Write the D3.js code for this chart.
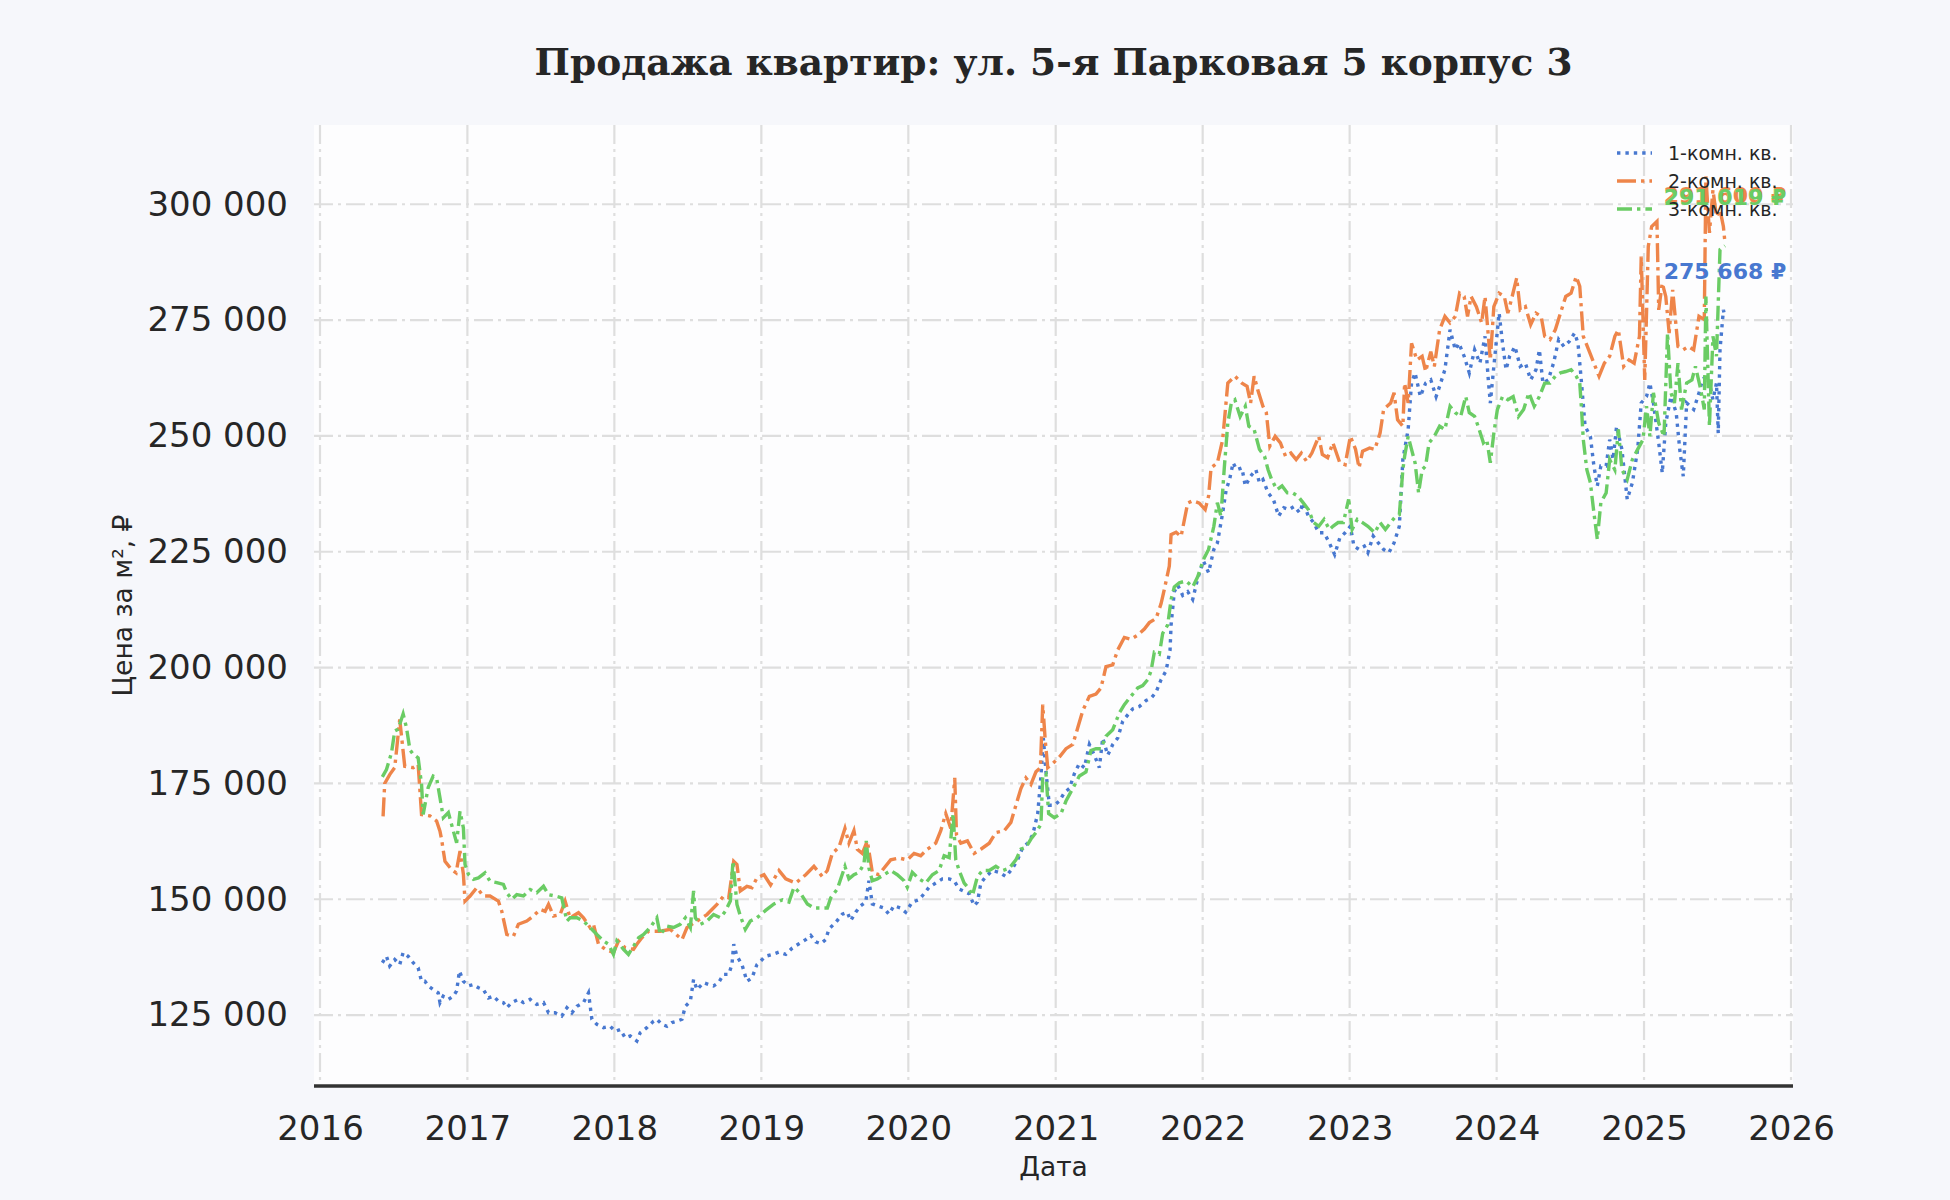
<!DOCTYPE html>
<html>
<head>
<meta charset="utf-8">
<script src="https://cdn.jsdelivr.net/npm/d3@7"></script>
<style>
  body { margin: 0; background: #f6f7fb; }
  svg { display: block; }
</style>
</head>
<body>
<div id="chart"></div>
<script>

// series names and colours (seaborn "muted")
const seriesNames = ["1-комн. кв.", "2-комн. кв.", "3-комн. кв."];
const seriesColors = ["#4878d0", "#ee854a", "#6acc64"];

// y ticks
const priceTicks = [125000, 150000, 175000, 200000, 225000, 250000, 275000, 300000];

// [decimal year, price per m2]
const oneRoom = [
  [2016.423,136300],[2016.451,137700],[2016.473,135600],[2016.507,137000],[2016.541,135900],[2016.564,138500],
  [2016.598,137700],[2016.632,136300],[2016.666,135200],[2016.689,132300],[2016.712,132300],[2016.734,131300],
  [2016.768,130500],[2016.802,129800],[2016.814,127700],[2016.836,129100],[2016.871,128400],[2016.905,129100],
  [2016.927,130200],[2016.946,134500],[2016.973,132300],[2017.007,131300],[2017.041,131600],[2017.075,130900],
  [2017.109,130500],[2017.143,128700],[2017.177,129100],[2017.211,128000],[2017.245,127700],[2017.268,126600],
  [2017.302,127700],[2017.347,128400],[2017.381,127700],[2017.427,128400],[2017.472,127300],[2017.518,127700],
  [2017.552,125500],[2017.597,125500],[2017.642,124800],[2017.677,126600],[2017.711,125500],[2017.745,126900],
  [2017.790,127700],[2017.824,129800],[2017.847,124100],[2017.881,123000],[2017.926,122300],[2017.972,122600],
  [2018.006,121500],[2018.040,121900],[2018.074,120100],[2018.108,120500],[2018.153,119400],[2018.176,121200],
  [2018.221,122300],[2018.267,123700],[2018.289,124100],[2018.323,123000],[2018.358,122600],[2018.392,123400],
  [2018.426,123700],[2018.460,124100],[2018.483,126900],[2018.517,128000],[2018.539,132700],[2018.562,130500],
  [2018.607,132000],[2018.641,131600],[2018.675,131300],[2018.709,132000],[2018.743,133800],[2018.778,133800],
  [2018.800,135900],[2018.812,140300],[2018.834,137700],[2018.868,135900],[2018.902,132300],[2018.936,133000],
  [2018.970,135900],[2019.029,137700],[2019.075,138100],[2019.120,138600],[2019.166,138100],[2019.211,139500],
  [2019.256,140400],[2019.302,141300],[2019.336,142200],[2019.370,140800],[2019.404,140400],[2019.438,141300],
  [2019.460,143600],[2019.506,145000],[2019.551,146800],[2019.585,147200],[2019.608,145400],[2019.642,147200],
  [2019.676,148600],[2019.710,149400],[2019.732,154000],[2019.755,149000],[2019.789,148600],[2019.834,148100],
  [2019.868,146800],[2019.902,148600],[2019.948,148100],[2019.982,147200],[2020.027,149400],[2020.073,149900],
  [2020.107,151200],[2020.141,152600],[2020.186,153500],[2020.231,154400],[2020.277,154400],[2020.311,154000],
  [2020.345,152200],[2020.379,151700],[2020.413,151200],[2020.447,148600],[2020.469,149400],[2020.492,153500],
  [2020.526,154900],[2020.571,156200],[2020.617,155800],[2020.662,154900],[2020.707,156700],[2020.741,158500],
  [2020.776,161200],[2020.810,162100],[2020.844,163900],[2020.878,168500],[2020.900,176600],[2020.916,184800],
  [2020.934,177500],[2020.957,170300],[2020.991,170300],[2021.025,171200],[2021.059,173000],[2021.093,173900],
  [2021.127,177100],[2021.161,179300],[2021.195,178400],[2021.229,183400],[2021.263,181100],[2021.297,178400],
  [2021.320,184800],[2021.354,181100],[2021.388,183400],[2021.422,184800],[2021.456,188400],[2021.490,189800],
  [2021.524,191100],[2021.569,191600],[2021.615,192900],[2021.649,193400],[2021.683,194700],[2021.717,197400],
  [2021.751,199300],[2021.778,203800],[2021.785,209200],[2021.807,216400],[2021.830,217800],[2021.864,215600],
  [2021.898,216400],[2021.932,214700],[2021.966,219200],[2022.005,223000],[2022.040,220500],[2022.076,225500],
  [2022.100,226900],[2022.136,233400],[2022.160,238400],[2022.183,240600],[2022.207,244200],[2022.231,242700],
  [2022.267,243100],[2022.290,239200],[2022.326,241300],[2022.362,242700],[2022.386,239900],[2022.410,240600],
  [2022.445,237700],[2022.481,236300],[2022.517,232700],[2022.552,234500],[2022.588,234100],[2022.624,234800],
  [2022.660,233400],[2022.683,235600],[2022.719,232700],[2022.755,231300],[2022.790,229100],[2022.826,229100],
  [2022.862,226900],[2022.898,224400],[2022.933,228000],[2022.969,229100],[2023.005,230500],[2023.029,226200],
  [2023.064,225500],[2023.100,226200],[2023.124,224800],[2023.160,228400],[2023.195,226900],[2023.231,225500],
  [2023.267,224800],[2023.302,226900],[2023.338,230500],[2023.362,244900],[2023.398,251400],[2023.421,261400],
  [2023.445,263600],[2023.481,258500],[2023.517,261400],[2023.552,262100],[2023.588,258500],[2023.612,260700],
  [2023.648,264300],[2023.683,272900],[2023.719,268600],[2023.743,270000],[2023.779,267200],[2023.814,263600],
  [2023.850,268600],[2023.886,265700],[2023.921,271500],[2023.945,261400],[2023.957,257100],[2023.981,265000],
  [2024.017,276500],[2024.040,270000],[2024.064,264300],[2024.088,267200],[2024.124,269300],[2024.160,265000],
  [2024.195,265700],[2024.231,262100],[2024.267,264300],[2024.290,268600],[2024.314,261400],[2024.350,262100],
  [2024.386,265700],[2024.421,270800],[2024.457,269300],[2024.493,270400],[2024.529,272200],[2024.552,270000],
  [2024.576,261400],[2024.600,252100],[2024.636,249900],[2024.660,243500],[2024.683,239200],[2024.707,243500],
  [2024.743,243500],[2024.767,249200],[2024.790,244900],[2024.814,252100],[2024.850,247100],[2024.886,236300],
  [2024.921,239900],[2024.957,247100],[2024.981,257100],[2025.017,258500],[2025.040,261400],[2025.064,257100],
  [2025.100,248500],[2025.124,242000],[2025.148,252800],[2025.183,258500],[2025.219,255000],[2025.243,247100],
  [2025.267,241300],[2025.290,257100],[2025.338,255700],[2025.374,259300],[2025.398,262100],[2025.421,262900],
  [2025.445,261400],[2025.469,257800],[2025.493,261400],[2025.505,250600],[2025.517,268600],[2025.540,277200],
  [2025.551,275668]
];

const twoRoom = [
  [2016.428,167900],[2016.439,175000],[2016.473,176900],[2016.507,178400],[2016.541,188800],[2016.575,178700],
  [2016.632,178400],[2016.666,179100],[2016.689,168300],[2016.746,168000],[2016.791,166900],[2016.814,164700],
  [2016.825,162900],[2016.848,158200],[2016.893,156400],[2016.923,155700],[2016.950,160400],[2016.973,155400],
  [2016.984,149600],[2017.018,150700],[2017.064,152500],[2017.109,150700],[2017.154,150700],[2017.211,149600],
  [2017.234,147400],[2017.268,142400],[2017.313,142000],[2017.347,144600],[2017.404,145300],[2017.449,146400],
  [2017.495,147800],[2017.529,147400],[2017.552,148900],[2017.586,146400],[2017.631,146700],[2017.665,149600],
  [2017.699,146000],[2017.756,147100],[2017.790,146000],[2017.835,143900],[2017.858,144600],[2017.892,140300],
  [2017.938,139200],[2017.994,138500],[2018.028,141000],[2018.074,139500],[2018.130,139200],[2018.153,140300],
  [2018.187,141700],[2018.233,143100],[2018.312,143100],[2018.380,143500],[2018.460,141300],[2018.494,143900],
  [2018.562,145300],[2018.630,146700],[2018.698,148900],[2018.743,150700],[2018.778,150300],[2018.812,158200],
  [2018.834,157500],[2018.857,151800],[2018.902,152800],[2018.936,152500],[2018.970,154600],[2019.018,155300],
  [2019.063,153100],[2019.120,156200],[2019.166,154400],[2019.234,153500],[2019.302,155300],[2019.358,157100],
  [2019.415,154900],[2019.449,156200],[2019.483,159900],[2019.528,161200],[2019.569,165300],[2019.596,162100],
  [2019.630,164800],[2019.653,160800],[2019.687,159900],[2019.721,162600],[2019.755,155800],[2019.800,155300],
  [2019.834,156700],[2019.880,158500],[2019.937,158900],[2019.993,158500],[2020.039,159900],[2020.084,159400],
  [2020.129,160800],[2020.186,162100],[2020.220,164800],[2020.254,168500],[2020.288,165300],[2020.315,176200],
  [2020.327,163900],[2020.356,162100],[2020.401,162600],[2020.447,159900],[2020.492,160800],[2020.549,162100],
  [2020.594,164400],[2020.651,164800],[2020.696,166600],[2020.730,170300],[2020.764,173900],[2020.798,176200],
  [2020.832,174800],[2020.866,177500],[2020.896,178400],[2020.912,192000],[2020.930,183900],[2020.946,178400],
  [2020.980,179300],[2021.025,180700],[2021.070,182500],[2021.116,183400],[2021.150,187000],[2021.184,190700],
  [2021.229,193800],[2021.274,194300],[2021.308,195600],[2021.342,200200],[2021.388,200600],[2021.422,203800],
  [2021.467,206500],[2021.512,206100],[2021.558,207000],[2021.603,208300],[2021.637,209700],[2021.683,210600],
  [2021.717,213800],[2021.739,216900],[2021.773,221900],[2021.785,228700],[2021.819,229200],[2021.853,228300],
  [2021.898,235500],[2021.932,236000],[2021.977,235500],[2022.017,234100],[2022.040,237000],[2022.057,243100],
  [2022.100,244200],[2022.136,249200],[2022.171,261400],[2022.219,262900],[2022.267,261400],[2022.302,260700],
  [2022.326,257100],[2022.350,262900],[2022.374,260000],[2022.410,256400],[2022.433,255000],[2022.457,247800],
  [2022.493,249900],[2022.529,248500],[2022.564,245600],[2022.600,246300],[2022.636,244900],[2022.671,246300],
  [2022.707,244500],[2022.743,246300],[2022.790,249900],[2022.814,246000],[2022.850,245300],[2022.886,248500],
  [2022.933,244200],[2022.969,243800],[2023.005,249900],[2023.040,247100],[2023.064,243100],[2023.088,246700],
  [2023.136,247400],[2023.171,247100],[2023.207,250600],[2023.231,255700],[2023.279,257100],[2023.302,259300],
  [2023.326,253500],[2023.362,252100],[2023.374,261400],[2023.398,257100],[2023.421,270000],[2023.457,266400],
  [2023.493,267200],[2023.517,263900],[2023.552,268200],[2023.576,265000],[2023.612,272900],[2023.648,275800],
  [2023.683,274400],[2023.719,275800],[2023.748,280800],[2023.779,280100],[2023.802,275800],[2023.826,280100],
  [2023.862,277900],[2023.898,274400],[2023.921,280100],[2023.957,266400],[2023.981,277900],[2024.017,280800],
  [2024.052,280100],[2024.076,276500],[2024.100,279400],[2024.136,284100],[2024.160,277200],[2024.195,277900],
  [2024.231,274000],[2024.267,276500],[2024.302,275800],[2024.326,271500],[2024.362,270800],[2024.398,272900],
  [2024.433,276500],[2024.469,280100],[2024.505,280800],[2024.540,284400],[2024.564,282300],[2024.588,271500],
  [2024.624,268600],[2024.660,265700],[2024.695,262900],[2024.731,265700],[2024.767,267200],[2024.802,271500],
  [2024.826,272900],[2024.862,265000],[2024.898,266400],[2024.933,265700],[2024.969,271500],[2024.981,288700],
  [2025.005,262100],[2025.029,290900],[2025.052,295200],[2025.088,296300],[2025.100,277200],[2025.124,283000],
  [2025.148,280100],[2025.171,272200],[2025.195,281500],[2025.231,269300],[2025.267,268600],[2025.302,269300],
  [2025.338,268600],[2025.374,275800],[2025.410,275100],[2025.421,306000],[2025.445,293800],[2025.469,303100],
  [2025.493,297300],[2025.517,298800],[2025.540,295200],[2025.551,291600]
];

const threeRoom = [
  [2016.423,176400],[2016.451,178000],[2016.485,181600],[2016.507,186300],[2016.530,186700],[2016.564,190000],
  [2016.587,187000],[2016.610,182300],[2016.632,181300],[2016.666,180500],[2016.689,174800],[2016.700,168300],
  [2016.734,174100],[2016.768,176600],[2016.791,176200],[2016.814,171900],[2016.837,167600],[2016.871,168700],
  [2016.905,164700],[2016.927,162200],[2016.950,169000],[2016.973,165400],[2016.984,157500],[2017.007,155400],
  [2017.041,154300],[2017.075,154600],[2017.120,155700],[2017.154,153900],[2017.200,153600],[2017.245,153200],
  [2017.268,151400],[2017.302,150000],[2017.336,151000],[2017.381,150700],[2017.427,152100],[2017.472,151400],
  [2017.518,152800],[2017.552,151000],[2017.597,150700],[2017.642,150300],[2017.677,145300],[2017.699,146000],
  [2017.745,146000],[2017.790,145300],[2017.835,143900],[2017.881,142400],[2017.926,141000],[2017.960,140300],
  [2017.994,138100],[2018.017,141000],[2018.062,139200],[2018.096,138100],[2018.131,139900],[2018.165,141700],
  [2018.199,142400],[2018.244,143900],[2018.289,146000],[2018.312,142400],[2018.358,144200],[2018.403,143900],
  [2018.448,144600],[2018.483,146000],[2018.517,143900],[2018.539,151800],[2018.551,146000],[2018.585,144600],
  [2018.630,145300],[2018.675,146700],[2018.721,146000],[2018.755,147400],[2018.789,149600],[2018.807,158200],
  [2018.834,148900],[2018.857,146400],[2018.891,143500],[2018.925,145300],[2018.970,146000],[2019.029,147600],
  [2019.086,149000],[2019.143,149900],[2019.188,149400],[2019.222,152600],[2019.268,151200],[2019.313,149000],
  [2019.358,148100],[2019.404,148100],[2019.449,148100],[2019.472,150300],[2019.517,152200],[2019.569,157100],
  [2019.596,154400],[2019.630,155300],[2019.664,155800],[2019.698,157600],[2019.714,162600],[2019.732,156700],
  [2019.755,154000],[2019.789,154400],[2019.834,155300],[2019.880,156200],[2019.925,155300],[2019.971,154000],
  [2019.993,152600],[2020.027,155800],[2020.073,154400],[2020.118,153500],[2020.163,155300],[2020.209,156200],
  [2020.243,159400],[2020.277,159000],[2020.304,168500],[2020.322,158500],[2020.345,156200],[2020.379,153500],
  [2020.413,152200],[2020.435,150800],[2020.469,154900],[2020.503,156200],[2020.549,156200],[2020.594,157100],
  [2020.639,156200],[2020.685,156700],[2020.730,158500],[2020.764,160800],[2020.798,161200],[2020.832,163000],
  [2020.866,164400],[2020.900,166200],[2020.912,176600],[2020.934,177100],[2020.952,168500],[2020.991,167600],
  [2021.036,168500],[2021.070,171200],[2021.116,173900],[2021.161,176600],[2021.206,177500],[2021.240,182100],
  [2021.274,182500],[2021.308,182500],[2021.342,185200],[2021.388,186600],[2021.433,190200],[2021.467,192000],
  [2021.512,193800],[2021.558,195600],[2021.592,196100],[2021.626,197400],[2021.649,199300],[2021.671,203300],
  [2021.705,202900],[2021.728,207400],[2021.762,209200],[2021.785,214700],[2021.807,217400],[2021.841,218300],
  [2021.887,218700],[2021.932,217400],[2021.966,219600],[2022.005,223300],[2022.040,225500],[2022.076,230500],
  [2022.100,235600],[2022.124,232700],[2022.148,243500],[2022.171,252800],[2022.195,257100],[2022.219,257800],
  [2022.255,254200],[2022.290,256400],[2022.314,252100],[2022.350,251400],[2022.386,247100],[2022.421,245600],
  [2022.445,242700],[2022.469,240600],[2022.505,238400],[2022.540,239200],[2022.576,237700],[2022.612,237700],
  [2022.648,237000],[2022.683,235600],[2022.719,234100],[2022.755,231300],[2022.790,230500],[2022.826,232000],
  [2022.862,229800],[2022.886,230500],[2022.921,231300],[2022.957,231300],[2022.993,236300],[2023.017,229800],
  [2023.052,232000],[2023.088,231300],[2023.124,230500],[2023.171,229100],[2023.207,231300],[2023.243,229800],
  [2023.279,231300],[2023.314,232700],[2023.338,233000],[2023.362,242700],[2023.374,245600],[2023.398,249900],
  [2023.421,247100],[2023.445,244200],[2023.469,237700],[2023.493,242700],[2023.517,243500],[2023.540,248500],
  [2023.576,249900],[2023.612,252100],[2023.648,251400],[2023.683,256400],[2023.719,255000],[2023.755,254200],
  [2023.790,258500],[2023.814,255000],[2023.850,254200],[2023.874,252100],[2023.910,248500],[2023.933,249200],
  [2023.957,244200],[2023.981,250600],[2024.005,255700],[2024.040,258500],[2024.076,257800],[2024.112,258500],
  [2024.148,254200],[2024.183,255700],[2024.219,259300],[2024.255,256400],[2024.290,258500],[2024.326,261400],
  [2024.362,261400],[2024.398,262900],[2024.433,263600],[2024.469,263900],[2024.505,264300],[2024.540,262900],
  [2024.564,261400],[2024.576,255700],[2024.588,249200],[2024.612,242700],[2024.636,239900],[2024.660,233400],
  [2024.683,227700],[2024.707,235600],[2024.743,237700],[2024.767,244900],[2024.802,242700],[2024.826,251400],
  [2024.850,242700],[2024.886,240600],[2024.921,244900],[2024.957,247100],[2024.993,249200],[2025.017,256400],
  [2025.040,249900],[2025.064,259300],[2025.100,252800],[2025.136,249900],[2025.160,272200],[2025.183,259300],
  [2025.207,257100],[2025.231,265700],[2025.255,255700],[2025.290,261400],[2025.326,262100],[2025.350,265000],
  [2025.386,260000],[2025.410,255700],[2025.421,280100],[2025.445,252100],[2025.469,271500],[2025.493,267200],
  [2025.517,290200],[2025.551,291019]
];

const allSeries = [oneRoom, twoRoom, threeRoom];

// matplotlib-like line styles: dotted, dash-dot, dash-dot
const dashes = ["3.4,5", "19,5,3.4,5", "15,5,3.4,5"];

// decimal year -> Date
function yearToDate(y) {
  const yr = Math.floor(y);
  const start = new Date(yr, 0, 1), end = new Date(yr + 1, 0, 1);
  return new Date(+start + (y - yr) * (end - start));
}

const svgWidth = 1950;
const svgHeight = 1200;
const plot = { left: 314, right: 1793, top: 125, bottom: 1086 };
const sansFont = "'DejaVu Sans', sans-serif";

const fmt = d3.formatLocale({ decimal: ",", thousands: " ", grouping: [3], currency: ["", " ₽"] }).format(",d");

const svg = d3.select("#chart")
  .append("svg")
    .attr("width", svgWidth)
    .attr("height", svgHeight)
    .style("background", "#f6f7fb")
    .style("font-family", sansFont);

const x = d3.scaleTime()
  .domain([yearToDate(2016), yearToDate(2026)])
  .range([320, 1791]);

const y = d3.scaleLinear()
  .domain([109700, 317100])
  .range([plot.bottom, plot.top]);

// plot background
svg.append("rect")
  .attr("x", plot.left)
  .attr("y", plot.top)
  .attr("width", plot.right - plot.left)
  .attr("height", plot.bottom - plot.top)
  .attr("fill", "#fdfdfe");

// grid (dash-dot)
const yearTicks = d3.timeYear.range(yearToDate(2016), yearToDate(2026.5));

svg.append("g")
  .selectAll("line")
  .data(yearTicks)
  .enter()
  .append("line")
    .attr("x1", d => x(d)).attr("x2", d => x(d))
    .attr("y1", plot.top).attr("y2", plot.bottom)
    .attr("stroke", "#dedede")
    .attr("stroke-width", 2.2)
    .attr("stroke-dasharray", "19,5,3,5");

svg.append("g")
  .selectAll("line")
  .data(priceTicks)
  .enter()
  .append("line")
    .attr("x1", plot.left).attr("x2", plot.right)
    .attr("y1", d => y(d)).attr("y2", d => y(d))
    .attr("stroke", "#dedede")
    .attr("stroke-width", 2.2)
    .attr("stroke-dasharray", "19,5,3,5");

// axes
const xAxis = svg.append("g")
  .attr("transform", "translate(0," + plot.bottom + ")")
  .call(d3.axisBottom(x).tickValues(yearTicks).tickFormat(d3.timeFormat("%Y")).tickSize(0).tickPadding(30));
xAxis.attr("font-family", null);
xAxis.select(".domain").remove();
xAxis.selectAll("text")
  .style("font-family", sansFont)
  .style("font-size", "34px")
  .attr("fill", "#262626");

const yAxis = svg.append("g")
  .attr("transform", "translate(" + plot.left + ",0)")
  .call(d3.axisLeft(y).tickValues(priceTicks).tickFormat(fmt).tickSize(0).tickPadding(26));
yAxis.attr("font-family", null);
yAxis.select(".domain").remove();
yAxis.selectAll("text")
  .style("font-family", sansFont)
  .style("font-size", "34px")
  .attr("fill", "#262626");

// bottom spine
svg.append("line")
  .attr("x1", plot.left).attr("x2", plot.right)
  .attr("y1", plot.bottom).attr("y2", plot.bottom)
  .attr("stroke", "#333")
  .attr("stroke-width", 3.5);

// lines
const line = d3.line()
  .x(d => x(yearToDate(d[0])))
  .y(d => y(d[1]));

allSeries.forEach(function(series, i) {
  svg.append("path")
    .datum(series)
    .attr("d", line)
    .attr("fill", "none")
    .attr("stroke", seriesColors[i])
    .attr("stroke-width", 3.4)
    .attr("stroke-dasharray", dashes[i]);
});

// last value labels
allSeries.forEach(function(series, i) {
  const last = series[series.length - 1];
  svg.append("text")
    .attr("x", x(yearToDate(last[0])))
    .attr("y", y(last[1] * 1.03))
    .attr("text-anchor", "middle")
    .style("font-size", "22px")
    .style("font-weight", "bold")
    .attr("fill", seriesColors[i])
    .text(fmt(last[1]) + " ₽");
});

// legend
const legend = svg.append("g")
  .selectAll("g")
  .data(seriesNames)
  .enter()
  .append("g")
    .attr("transform", (d, i) => "translate(1617," + (153 + i * 28) + ")");

legend.append("line")
  .attr("x1", 0).attr("x2", 35)
  .attr("stroke", (d, i) => seriesColors[i])
  .attr("stroke-width", 3.4)
  .attr("stroke-dasharray", (d, i) => dashes[i]);

legend.append("text")
  .attr("x", 51)
  .attr("dy", "0.35em")
  .style("font-size", "19px")
  .attr("fill", "#262626")
  .text(d => d);

// title and axis labels
svg.append("text")
  .attr("x", (plot.left + plot.right) / 2)
  .attr("y", 75)
  .attr("text-anchor", "middle")
  .style("font-family", "'DejaVu Serif', serif")
  .style("font-weight", "bold")
  .style("font-size", "37.5px")
  .attr("fill", "#262626")
  .text("Продажа квартир: ул. 5-я Парковая 5 корпус 3");

svg.append("text")
  .attr("x", (plot.left + plot.right) / 2)
  .attr("y", 1176)
  .attr("text-anchor", "middle")
  .style("font-size", "26.5px")
  .attr("fill", "#262626")
  .text("Дата");

svg.append("text")
  .attr("transform", "translate(123," + (plot.top + plot.bottom) / 2 + ") rotate(-90)")
  .attr("text-anchor", "middle")
  .attr("dy", "0.35em")
  .style("font-size", "26.5px")
  .attr("fill", "#262626")
  .text("Цена за м², ₽");

</script>
</body>
</html>
